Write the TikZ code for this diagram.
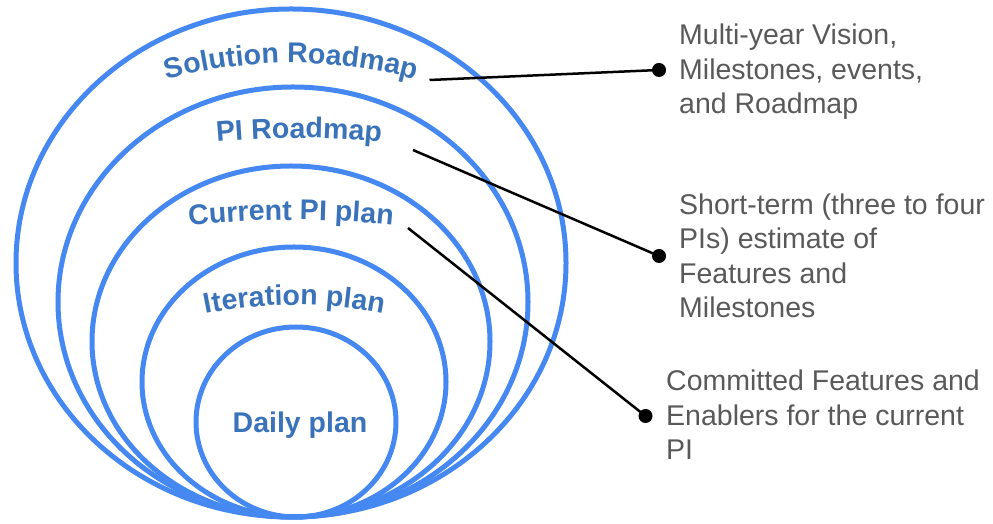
\documentclass[tikz,border=0pt]{standalone}
\usepackage{fontspec}
\setmainfont{Liberation Sans}
\usetikzlibrary{decorations.text}
\definecolor{ringblue}{RGB}{70,136,241}
\definecolor{lblblue}{RGB}{58,115,186}
\definecolor{notegray}{RGB}{89,89,89}
\newcommand\curvefont{\fontsize{28.5}{30}\selectfont\bfseries\color{lblblue}}
\tikzset{
  ring/.style={draw=ringblue, line width=5pt},
  curvelabel/.style={decorate, decoration={text along path, text align=center, text={|\curvefont|#1}}},
  note/.style={anchor=base west, inner sep=0pt, align=left, text=notegray, font=\fontsize{28.5}{34.5}\selectfont},
  dot/.style={circle, fill=black, inner sep=0pt, minimum size=14pt},
  leader/.style={draw=black, line width=2.5pt}
}
\begin{document}
\begin{tikzpicture}[x=1pt,y=1pt]
\useasboundingbox (0,0) rectangle (993,524);
% nested ellipses
\draw[ring] (291,261) ellipse [x radius=275, y radius=254];
\draw[ring] (293,222) ellipse [x radius=235, y radius=215];
\draw[ring] (291,182.5) ellipse [x radius=199, y radius=175.5];
\draw[ring] (294,142) ellipse [x radius=152, y radius=135];
\draw[ring] (296,102) ellipse [x radius=100, y radius=95];
% curved labels
\path[curvelabel={Solution Roadmap}] (291,-16) ++(111:477) arc[start angle=111, end angle=69, radius=477];
\path[curvelabel={PI Roadmap}] (299,-514) ++(97:900) arc[start angle=97, end angle=83, radius=900];
\path[curvelabel={Current PI plan}] (291,-696) ++(97:1000) arc[start angle=97, end angle=83, radius=1000];
\path[curvelabel={Iteration plan}] (294.5,-231) ++(104:450) arc[start angle=104, end angle=76, radius=450];
\node[anchor=base, inner sep=0pt, font=\curvefont] (daily) at (300,91) {Daily plan};
% notes (anchored at the baseline of their last line)
\node[note] (n1) at (679,410) {Multi-year Vision,\\Milestones, events,\\and Roadmap};
\node[note] (n2) at (679,206) {Short-term (three to four\\PIs) estimate of\\Features and\\Milestones};
\node[note] (n3) at (666,64) {Committed Features and\\Enablers for the current\\PI};
% dots
\node[dot] (d1) at (659,454) {};
\node[dot] (d2) at (659,268) {};
\node[dot] (d3) at (645.5,108) {};
% leader starts
\coordinate (s1) at (429.5,444);
\coordinate (s2) at (413,374);
\coordinate (s3) at (408,296);
\draw[leader] (s1) -- (d1.center);
\draw[leader] (s2) -- (d2.center);
\draw[leader] (s3) -- (d3.center);
\end{tikzpicture}
\end{document}
